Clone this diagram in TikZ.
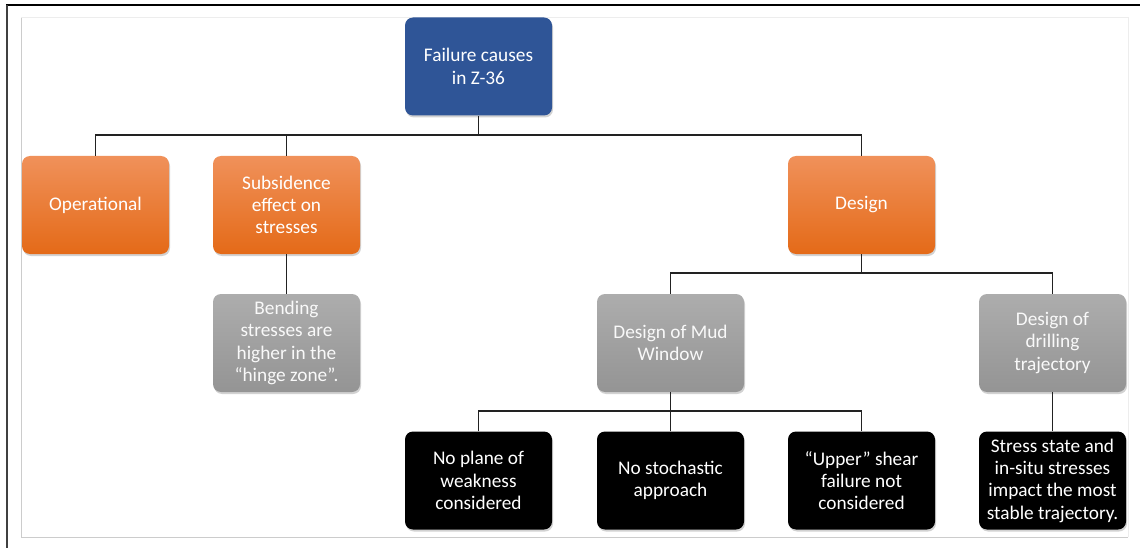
\documentclass[tikz,border=0pt]{standalone}
\usepackage{fontspec}
\setmainfont{Carlito}
\usetikzlibrary{shadows}
\definecolor{rootblue}{HTML}{2F5597}
\definecolor{orTop}{HTML}{F0915A}
\definecolor{orMid}{HTML}{F47F2E}
\definecolor{orBot}{HTML}{E46A18}
\definecolor{grTop}{HTML}{ADADAD}
\definecolor{grMid}{HTML}{A3A3A3}
\definecolor{grBot}{HTML}{949494}
\definecolor{linecol}{HTML}{222222}
\tikzset{
  box/.style={rounded corners=8pt, minimum width=147pt, minimum height=98pt,
    align=center, text=white, inner sep=2pt,
    font=\fontsize{19.3}{22.3}\selectfont,
    drop shadow={opacity=0.35, shadow xshift=1pt, shadow yshift=-2pt}},
  bluebox/.style={box, fill=rootblue},
  orangebox/.style={box, top color=orTop, middle color=orMid, bottom color=orBot},
  graybox/.style={box, top color=grTop, middle color=grMid, bottom color=grBot, text=white!95!gray},
  blackbox/.style={box, fill=black},
  conn/.style={draw=linecol, line width=1.3pt},
}
\begin{document}
\begin{tikzpicture}[x=1pt,y=-1pt]
\useasboundingbox (0,0) rectangle (1140,548);
\fill[white] (0,0) rectangle (1140,548);
% frames
\draw[black, line width=1.5pt] (6,5) -- (1140,5);
\draw[black!75, line width=2pt] (7,5) -- (7,548);
\draw[black!20, line width=1pt] (21,537) -- (21,18);
\draw[black!20, line width=1pt] (21,537) -- (1128,537);
\draw[black!7, line width=1pt] (21,18) -- (1128,18) -- (1128,537);
% bus coordinates
\coordinate (busA) at (0,135);
\coordinate (busB) at (0,273);
\coordinate (busC) at (0,411);
% nodes
\node[bluebox] (root) at (478.5,66.5) {Failure causes\\in Z-36};
\node[orangebox] (oper) at (95.5,205) {Operational};
\node[orangebox] (subs) at (286.5,205) {Subsidence\\effect on\\stresses};
\node[orangebox] (design) at (861.5,205) {Design};
\node[graybox] (bend) at (286.5,343) {Bending\\stresses are\\higher in the\\“hinge zone”.};
\node[graybox] (mud) at (670.5,343) {Design of Mud\\Window};
\node[graybox] (drill) at (1052.5,343) {Design of\\drilling\\trajectory};
\node[blackbox] (n1) at (478.5,480.5) {No plane of\\weakness\\considered};
\node[blackbox] (n2) at (670.5,480.5) {No stochastic\\approach};
\node[blackbox] (n3) at (861.5,480.5) {“Upper” shear\\failure not\\considered};
\node[blackbox] (n4) at (1052.5,480.5) {Stress state and\\in-situ stresses\\impact the most\\stable trajectory.};
% connectors
\draw[conn] (root.south) -- (root.south |- busA);
\draw[conn] (oper.north) -- (oper.north |- busA) -| (design.north);
\draw[conn] (subs.north) -- (subs.north |- busA);
\draw[conn] (subs.south) -- (bend.north);
\draw[conn] (design.south) -- (design.south |- busB);
\draw[conn] (mud.north) -- (mud.north |- busB) -| (drill.north);
\draw[conn] (mud.south) -- (mud.south |- busC);
\draw[conn] (n1.north) -- (n1.north |- busC) -| (n3.north);
\draw[conn] (n2.north) -- (n2.north |- busC);
\draw[conn] (drill.south) -- (n4.north);
\end{tikzpicture}
\end{document}
